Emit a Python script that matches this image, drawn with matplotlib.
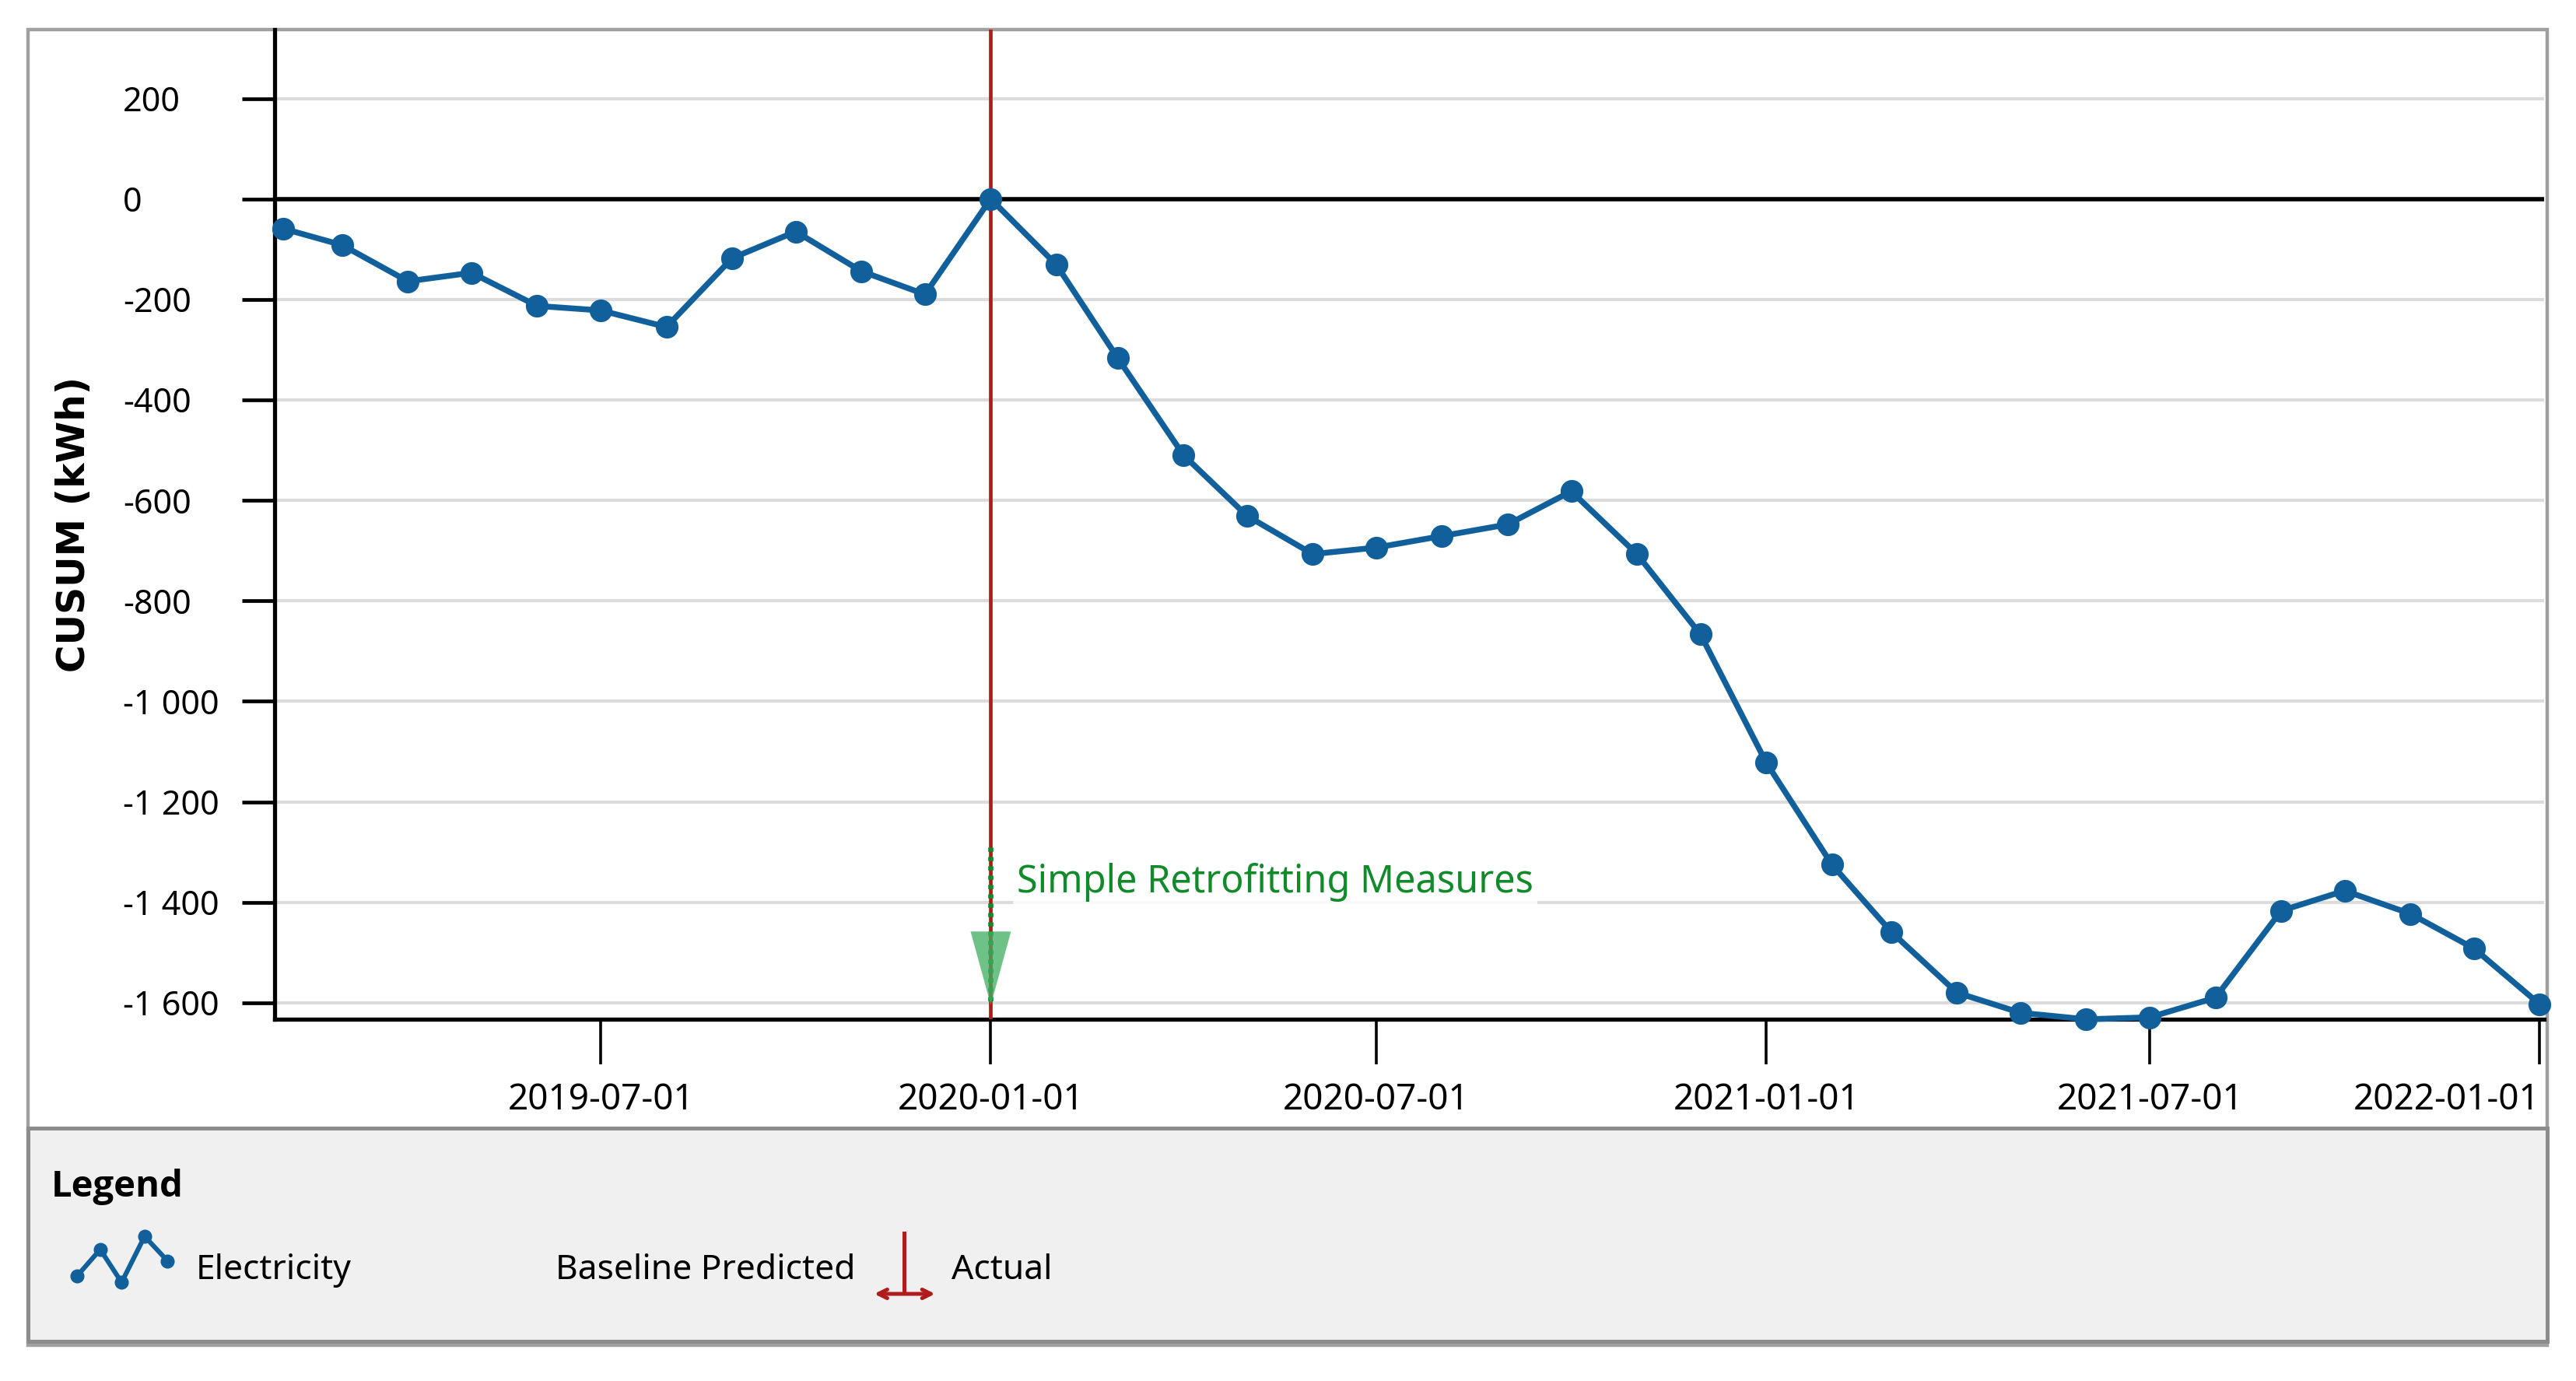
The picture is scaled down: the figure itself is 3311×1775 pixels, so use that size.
import numpy as np
import pandas as pd
import matplotlib
matplotlib.use("Agg")
import matplotlib.pyplot as plt
import matplotlib.dates as mdates
from matplotlib.patches import Rectangle
from matplotlib.ticker import FuncFormatter

# monthly CUSUM values (kWh)
months = pd.date_range("2019-02-01", "2022-01-01", freq="MS")
cusum = [-59, -92, -164, -147, -213, -222, -255, -118, -65, -144, -190,
         0, -131, -317, -510, -631, -707, -694, -671, -648, -582, -707,
         -867, -1122, -1325, -1459, -1580, -1620, -1633, -1629, -1590,
         -1417, -1377, -1423, -1492, -1603]

x_ticks = pd.to_datetime(["2019-07-01", "2020-01-01", "2020-07-01",
                          "2021-01-01", "2021-07-01", "2022-01-01"])
y_ticks = [200, 0, -200, -400, -600, -800, -1000, -1200, -1400, -1600]
measure_date = pd.Timestamp("2020-01-01")
measure_label = "Simple Retrofitting Measures"
measure_y = -1360

LINE_BLUE = "#11609b"
RED = "#b01c1c"
GREEN = "#118a2a"

plt.rcParams["font.family"] = ["Noto Sans", "DejaVu Sans"]

fig = plt.figure(figsize=(16.56, 8.875), dpi=200)

# background overlay in screen-like coords (1568 x 840)
bg = fig.add_axes([0, 0, 1, 1], zorder=0)
bg.set_xlim(0, 1568)
bg.set_ylim(840, 0)
bg.axis("off")
bg.add_patch(Rectangle((17, 18), 1533, 800, facecolor="white",
                       edgecolor="#a0a0a0", lw=1.6))
bg.add_patch(Rectangle((17, 686), 1533, 130, facecolor="#f0f0f0",
                       edgecolor="#8c8c8c", lw=1.8))

ax = fig.add_axes([167 / 1568, 1 - 620 / 840, 1381 / 1568, 602 / 840], zorder=2)
ax.set_facecolor("none")

ax.plot(months, cusum, color=LINE_BLUE, lw=2.7, marker="o", ms=9.5,
        zorder=5, clip_on=False)

ax.axhline(0, color="black", lw=2.0, zorder=3)
ax.axvline(measure_date, color=RED, lw=1.7, zorder=4)

# green measure marker
ax.plot([measure_date, measure_date], [-1290, -1600], color=GREEN, lw=2.4,
        ls=(0, (0.8, 1.0)), zorder=6)
tri = [(-0.55, 1), (0.55, 1), (0, -1), (-0.55, 1)]
ax.plot([measure_date], [-1530], marker=tri, ms=34, color="#3fae5f",
        alpha=0.75, mec="none", zorder=6)
ax.annotate(measure_label, (measure_date, measure_y), xytext=(12, 0),
            textcoords="offset points", color=GREEN, fontsize=17.5,
            va="center", ha="left", zorder=7,
            bbox=dict(boxstyle="square,pad=0.1", fc="white", ec="none", alpha=0.85))

ax.set_ylim(-1633, 337)
ax.set_xlim(pd.Timestamp("2019-01-28"), pd.Timestamp("2022-01-03"))

ax.set_yticks(y_ticks)
ax.yaxis.set_major_formatter(FuncFormatter(lambda v, p: f"{v:,.0f}".replace(",", " ")))
ax.set_xticks(x_ticks)
ax.xaxis.set_major_formatter(mdates.DateFormatter("%Y-%m-%d"))

ax.grid(axis="y", color="#dcdcdc", lw=1.5)
ax.set_axisbelow(True)

for s in ["top", "right"]:
    ax.spines[s].set_visible(False)
for s in ["left", "bottom"]:
    ax.spines[s].set_color("black")
    ax.spines[s].set_linewidth(1.9)

ax.tick_params(axis="y", length=15, width=1.7, pad=55, labelsize=15.5)
ax.tick_params(axis="x", length=21, width=1.3, pad=8, labelsize=16.5)
for lab in ax.get_yticklabels():
    lab.set_horizontalalignment("left")
xl = ax.get_xticklabels()
xl[-1].set_horizontalalignment("right")

ax.set_ylabel("CUSUM (kWh)", fontsize=17.5, fontweight="bold",
              family="DejaVu Sans", labelpad=12)
ax.yaxis.set_label_coords(-0.08, 0.5)

# legend panel
lg = fig.add_axes([0, 0, 1, 1], zorder=3)
lg.set_xlim(0, 1568)
lg.set_ylim(840, 0)
lg.axis("off")
lg.text(31, 722, "Legend", fontsize=17, fontweight="bold",
        family=["Open Sans", "DejaVu Sans"], va="center", ha="left")
icon_x = [47, 61, 74, 88, 102]
icon_y = [776, 760, 780, 752, 767]
lg.plot(icon_x, icon_y, color=LINE_BLUE, lw=2.2, marker="o", ms=5.5)
lg.text(119, 773, "Electricity", fontsize=16, va="center", ha="left")
lg.text(338, 773, "Baseline Predicted", fontsize=16, va="center", ha="left")
lg.plot([550, 550], [750, 786], color=RED, lw=1.8)
lg.annotate("", xy=(532, 787), xytext=(569, 787),
            arrowprops=dict(arrowstyle="<->", color=RED, lw=1.8,
                            shrinkA=0, shrinkB=0, mutation_scale=10))
lg.text(579, 773, "Actual", fontsize=16, va="center", ha="left")

fig.savefig("out.png", dpi=200, facecolor="white")
